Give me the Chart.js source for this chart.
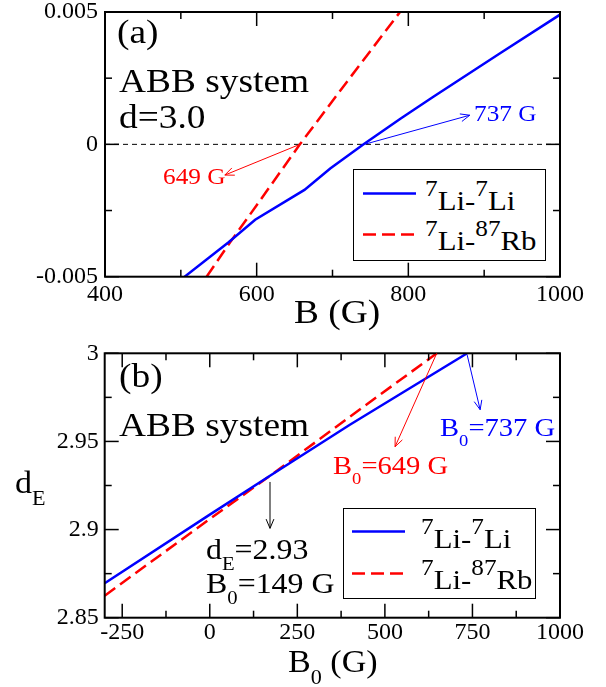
<!DOCTYPE html>
<html>
<head>
<meta charset="utf-8">
<script src="https://cdn.jsdelivr.net/npm/chart.js@4.4.1/dist/chart.umd.min.js"></script>
<style>
  body { margin: 0; background: #fff; }
  #wrap { position: relative; width: 606px; height: 687px; font-family: "Liberation Serif", "Times New Roman", serif; color: #000; }
  canvas { position: absolute; left: 0; }
  .t { position: absolute; white-space: nowrap; line-height: 1; transform-origin: 0 0; transform: scaleX(1.1); }
  .sup { font-size: 0.82em; position: relative; top: -0.6em; }
  .sub { font-size: 0.65em; position: relative; top: 0.6em; }
  .leg { position: absolute; box-sizing: border-box; border: 1.5px solid #000; background: #fff; }
  .sample { position: absolute; }
</style>
</head>
<body>
<div id="wrap">
  <canvas id="chart-a" width="606" height="330" style="top:0"></canvas>
  <canvas id="chart-b" width="606" height="357" style="top:330px"></canvas>

  <!-- panel (a) labels -->
  <div class="t" style="left:117px;top:15px;font-size:34px">(a)</div>
  <div class="t" style="left:119px;top:64px;font-size:34px">ABB system</div>
  <div class="t" style="left:119px;top:100px;font-size:34px">d=3.0</div>
  <div class="t" style="left:474px;top:102px;font-size:23px;color:#0000ff">737 G</div>
  <div class="t" style="left:163px;top:165px;font-size:23px;color:#ff0000">649 G</div>
  <div class="leg" style="left:353px;top:169px;width:193px;height:92px"></div>
  <svg class="sample" style="left:363px;top:191px" width="53" height="5"><line x1="0" y1="2.5" x2="53" y2="2.5" stroke="#0000ff" stroke-width="2.5"/></svg>
  <svg class="sample" style="left:363px;top:232px" width="53" height="5"><line x1="0" y1="2.5" x2="53" y2="2.5" stroke="#ff0000" stroke-width="2.5" stroke-dasharray="13 6"/></svg>
  <div class="t" style="left:425px;top:187px;font-size:28px"><span class="sup">7</span>Li-<span class="sup">7</span>Li</div>
  <div class="t" style="left:425px;top:227px;font-size:28px"><span class="sup">7</span>Li-<span class="sup">87</span>Rb</div>
  <div class="t" style="left:237px;top:295px;width:200px;text-align:center;font-size:34px;transform-origin:50% 0">B (G)</div>

  <!-- panel (b) labels -->
  <div class="t" style="left:119px;top:359px;font-size:34px">(b)</div>
  <div class="t" style="left:119px;top:408px;font-size:34px">ABB system</div>
  <div class="t" style="left:440px;top:415px;font-size:26px;color:#0000ff">B<span class="sub">0</span>=737 G</div>
  <div class="t" style="left:333px;top:453px;font-size:26px;color:#ff0000">B<span class="sub">0</span>=649 G</div>
  <div class="t" style="left:206px;top:534px;font-size:29px;line-height:31px">d<span class="sub">E</span>=2.93<br>B<span class="sub">0</span>=149 G</div>
  <div class="leg" style="left:343px;top:508px;width:193px;height:91px"></div>
  <svg class="sample" style="left:352px;top:529px" width="53" height="5"><line x1="0" y1="2.5" x2="53" y2="2.5" stroke="#0000ff" stroke-width="2.5"/></svg>
  <svg class="sample" style="left:352px;top:571px" width="53" height="5"><line x1="0" y1="2.5" x2="53" y2="2.5" stroke="#ff0000" stroke-width="2.5" stroke-dasharray="13 6"/></svg>
  <div class="t" style="left:421px;top:525px;font-size:28px"><span class="sup">7</span>Li-<span class="sup">7</span>Li</div>
  <div class="t" style="left:421px;top:566px;font-size:28px"><span class="sup">7</span>Li-<span class="sup">87</span>Rb</div>
  <div class="t" style="left:15px;top:467px;font-size:31px">d<span class="sub">E</span></div>
  <div class="t" style="left:288px;top:646px;font-size:31px">B<span class="sub">0</span> (G)</div>
</div>

<script>
/* Two stacked panels: (a) energy vs B, (b) d_E vs B0. */

// panel (a) curves
const bLiLiA = [505, 563, 598, 663, 697, 741, 790, 833, 921, 1000];
const eLiLiA = [-0.005, -0.0037, -0.00285, -0.00172, -0.00091, 0, 0.00098, 0.0018, 0.00344, 0.0049];
const bLiRbA = [534, 565, 600, 657, 720, 789];
const eLiRbA = [-0.005, -0.0037, -0.0023, 0, 0.0024, 0.005];
const zeroX = [400, 1000];
const zeroY = [0, 0];

// panel (b) curves
const b0LiLi = [-300, 0, 172, 400, 735];
const dLiLi = [2.8695, 2.9085, 2.9305, 2.9595, 3.0];
const b0LiRb = [-300, 0, 172, 400, 648];
const dLiRb = [2.8625, 2.906, 2.9305, 2.964, 3.0];

// ticks
const xMajA = [400, 600, 800, 1000];
const xMinA = [500, 700, 900];
const yMajA = [-0.005, 0, 0.005];
const yMinA = [-0.0025, 0.0025];
const yLabA = ["-0.005", "0", "0.005"];
const xMajB = [-250, 0, 250, 500, 750, 1000];
const xMinB = [-125, 125, 375, 625, 875];
const yMajB = [2.85, 2.9, 2.95, 3.0];
const yMinB = [2.875, 2.925, 2.975];
const yLabB = ["2.85", "2.9", "2.95", "3"];

// annotation arrows, in data units
const arrowsA = [
  { from: [742, 0], to: [881, 0.0011], color: "#0000ff" },
  { from: [657, 0], to: [558, -0.00116], color: "#ff0000" },
];
const arrowsB = [
  { from: [735, 2.999], to: [772, 2.968], color: "#0000ff" },
  { from: [648, 3.0], to: [529, 2.947], color: "#ff0000" },
  { from: [172, 2.927], to: [172, 2.9007], color: "#000000" },
];

const FONT = "'Liberation Serif', 'Times New Roman', serif";
const zip = (xs, ys) => xs.map((x, i) => ({ x, y: ys[i] }));
const near = (list, v) => list.findIndex((m) => Math.abs(m - v) < 1e-9);

function setTicks(major, minor) {
  return (s) => { s.ticks = [...major, ...minor].sort((a, b) => a - b).map((value) => ({ value })); };
}
function fitTo(size) {
  return (s) => {
    if (s.isHorizontal()) s.height = size; else s.width = size;
    s.paddingLeft = s.paddingRight = s.paddingTop = s.paddingBottom = 0;
  };
}

const frame = {
  id: "frame",
  afterDraw(chart, args, opts) {
    const { ctx, chartArea: a, scales: { x, y } } = chart;
    ctx.save();
    ctx.strokeStyle = "#000";
    ctx.lineWidth = 1.5;
    const seg = (x1, y1, x2, y2) => { ctx.beginPath(); ctx.moveTo(x1, y1); ctx.lineTo(x2, y2); ctx.stroke(); };
    x.ticks.forEach((t) => {
      const px = x.getPixelForValue(t.value);
      const len = near(opts.xMajor, t.value) >= 0 ? 14 : 7;
      seg(px, a.bottom, px, a.bottom - len);
      seg(px, a.top, px, a.top + len);
    });
    y.ticks.forEach((t) => {
      const py = y.getPixelForValue(t.value);
      const len = near(opts.yMajor, t.value) >= 0 ? 14 : 7;
      seg(a.left, py, a.left + len, py);
      seg(a.right, py, a.right - len, py);
    });
    ctx.lineWidth = 2;
    ctx.strokeRect(a.left, a.top, a.right - a.left, a.bottom - a.top);

    ctx.lineWidth = 1;
    opts.arrows.forEach((ar) => {
      const x1 = x.getPixelForValue(ar.from[0]), y1 = y.getPixelForValue(ar.from[1]);
      const x2 = x.getPixelForValue(ar.to[0]), y2 = y.getPixelForValue(ar.to[1]);
      const ang = Math.atan2(y2 - y1, x2 - x1);
      ctx.strokeStyle = ar.color;
      seg(x1, y1, x2, y2);
      [0.4, -0.4].forEach((d) => seg(x2, y2, x2 - 10 * Math.cos(ang + d), y2 - 10 * Math.sin(ang + d)));
    });
    ctx.restore();
  },
};

function axis(opts) {
  const { min, max, major, minor, labels, size, padding } = opts;
  return {
    type: "linear",
    min, max,
    afterBuildTicks: setTicks(major, minor),
    afterFit: fitTo(size),
    grid: { display: false, drawTicks: false },
    border: { display: false },
    ticks: {
      autoSkip: false, maxRotation: 0, padding, color: "#000",
      font: { family: FONT, size: 24 },
      callback: (v) => { const i = near(major, v); return i >= 0 ? labels[i] : ""; },
    },
  };
}

function lineSet(xs, ys, color, dash, width) {
  return {
    data: zip(xs, ys), showLine: true, pointRadius: 0, borderColor: color, backgroundColor: color,
    borderWidth: width, borderDash: dash, tension: 0, fill: false,
  };
}

function baseOptions(pad, scales, frameOpts) {
  return {
    responsive: false, animation: false, events: [],
    layout: { padding: pad },
    plugins: { legend: { display: false }, tooltip: { enabled: false }, frame: frameOpts },
    scales,
  };
}

new Chart(document.getElementById("chart-a"), {
  type: "scatter",
  data: {
    datasets: [
      lineSet(bLiLiA, eLiLiA, "#0000ff", [], 2.5),
      lineSet(bLiRbA, eLiRbA, "#ff0000", [13, 6], 2.5),
      lineSet(zeroX, zeroY, "#000000", [5, 4], 1),
    ],
  },
  options: baseOptions(
    { top: 12, right: 46, left: 0, bottom: 0 },
    {
      x: axis({ min: 400, max: 1000, major: xMajA, minor: xMinA, labels: xMajA.map(String), size: 53.3, padding: 4 }),
      y: axis({ min: -0.005, max: 0.005, major: yMajA, minor: yMinA, labels: yLabA, size: 105, padding: 7 }),
    },
    { xMajor: xMajA, yMajor: yMajA, arrows: arrowsA }
  ),
  plugins: [frame],
});

new Chart(document.getElementById("chart-b"), {
  type: "scatter",
  data: {
    datasets: [
      lineSet(b0LiLi, dLiLi, "#0000ff", [], 2.5),
      lineSet(b0LiRb, dLiRb, "#ff0000", [13, 6], 2.5),
    ],
  },
  options: baseOptions(
    { top: 23.3, right: 46, left: 0, bottom: 0 },
    {
      x: axis({ min: -300, max: 1000, major: xMajB, minor: xMinB, labels: xMajB.map(String), size: 69.3, padding: 1 }),
      y: axis({ min: 2.85, max: 3.0, major: yMajB, minor: yMinB, labels: yLabB, size: 104.7, padding: 6 }),
    },
    { xMajor: xMajB, yMajor: yMajB, arrows: arrowsB }
  ),
  plugins: [frame],
});
</script>
</body>
</html>
